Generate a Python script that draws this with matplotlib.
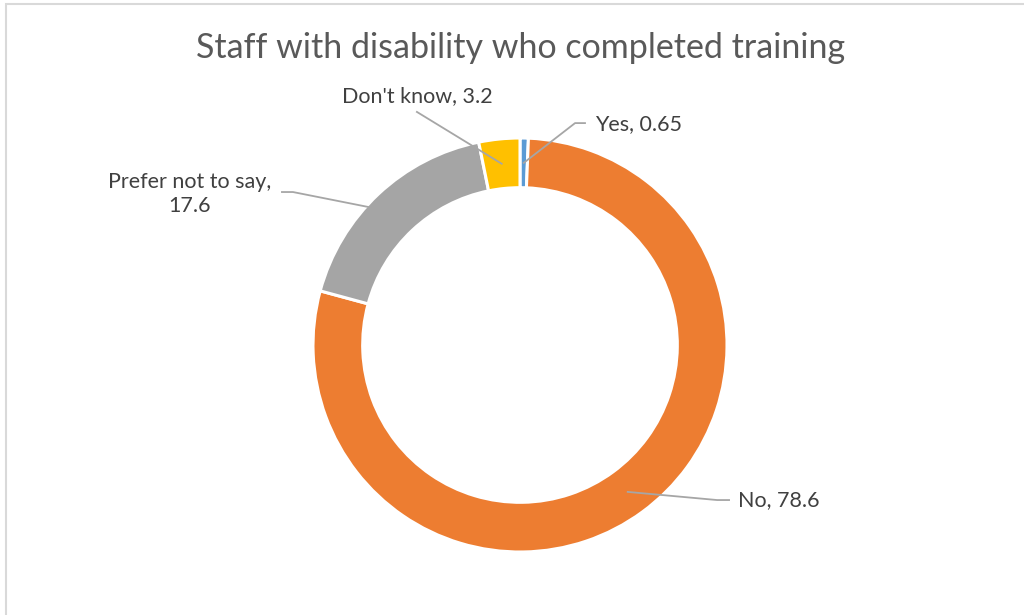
import matplotlib.pyplot as plt
import numpy as np
from matplotlib.patches import Rectangle

plt.rcParams['font.family'] = ['Lato', 'DejaVu Sans']

# data
categories = ['Yes', 'No', 'Prefer not to say', 'Don\'t know']
values = [0.65, 78.6, 17.6, 3.2]
label_texts = ['Yes, 0.65', 'No, 78.6', 'Prefer not to say,\n17.6', 'Don\'t know, 3.2']
colors = ['#5B9BD5', '#ED7D31', '#A5A5A5', '#FFC000']

fig = plt.figure(figsize=(10.24, 6.15), dpi=100)

# light frame of the chart area
fig.patches.append(Rectangle((6 / 1024, -0.1), 1.2, 1 - 4 / 615 + 0.1,
                             transform=fig.transFigure, fill=False,
                             edgecolor='#D9D9D9', linewidth=1.5))

cx, cy, R = 520, 345, 207
ax = fig.add_axes([(cx - R) / 1024, (615 - cy - R) / 615, 2 * R / 1024, 2 * R / 615])
wedges, _ = ax.pie(values, colors=colors, startangle=90, counterclock=False,
                   radius=1, wedgeprops=dict(width=0.24, edgecolor='white', linewidth=2.2))
ax.set_xlim(-1, 1)
ax.set_ylim(-1, 1)
ax.set_aspect('equal')
ax.axis('off')

fig.text(0.508, 0.922, 'Staff with disability who completed training',
         ha='center', va='center', fontsize=24.5, color='#595959')

# label layout: text pos, alignment, elbow points, anchor radius, angle shift
layout = {
    'Yes': dict(pos=(0.362, 1.068), ha='left', elbow=[(0.314, 1.072), (0.266, 1.072)], r=0.88, da=0),
    'No': dict(pos=(1.053, -0.749), ha='left', elbow=[(1.010, -0.749), (0.952, -0.749)], r=0.88, da=0),
    'Prefer not to say': dict(pos=(-1.594, 0.729), ha='center', elbow=[(-1.150, 0.739), (-1.097, 0.739)], r=0.99, da=4.5),
    'Don\'t know': dict(pos=(-0.498, 1.203), ha='center', elbow=[(-0.498, 1.126)], r=0.88, da=0),
}

for w, cat, txt in zip(wedges, categories, label_texts):
    L = layout[cat]
    mid = np.deg2rad((w.theta1 + w.theta2) / 2 + L['da'])
    ax_pt = (L['r'] * np.cos(mid), L['r'] * np.sin(mid))
    pts = L['elbow'] + [ax_pt]
    xs, ys = zip(*pts)
    ax.plot(xs, ys, color='#A6A6A6', linewidth=1.3, clip_on=False, zorder=5)
    ax.text(L['pos'][0], L['pos'][1], txt, ha=L['ha'], va='center', fontsize=15.5,
            color='#404040', linespacing=1.3, clip_on=False)

fig.savefig('out.png', dpi=100)
